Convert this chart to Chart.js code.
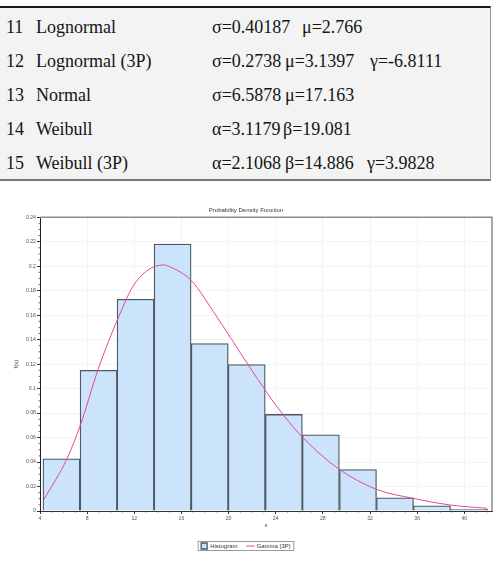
<!DOCTYPE html>
<html>
<head>
<meta charset="utf-8">
<script src="https://cdn.jsdelivr.net/npm/chart.js@4.4.1/dist/chart.umd.min.js"></script>
<style>
  body { margin:0; width:495px; height:561px; background:#fff; overflow:hidden; position:relative; }
  #fits { position:absolute; left:-2px; top:6px; width:492px; height:171px; background:#f3f3f3;
          border-top:2px solid #1a1a1a; border-right:1px solid #9a9a9a; border-bottom:2px solid #777;
          font-family:"Liberation Serif", "Times New Roman", serif; font-size:18px; color:#151515; }
  .cell { position:absolute; white-space:pre; line-height:18px; }
  #wrap { position:absolute; left:0; top:200px; width:495px; height:361px; }
</style>
</head>
<body>
<div id="fits"></div>
<div id="wrap"><canvas id="pdf" width="495" height="361"></canvas></div>
<script>
// fitted distributions table
const fitIds = ['11', '12', '13', '14', '15'];
const fitNames = ['Lognormal', 'Lognormal (3P)', 'Normal', 'Weibull', 'Weibull (3P)'];
const fitParams = [
  ['σ=0.40187', 'μ=2.766'],
  ['σ=0.2738', 'μ=3.1397', 'γ=-6.8111'],
  ['σ=6.5878', 'μ=17.163'],
  ['α=3.1179', 'β=19.081'],
  ['α=2.1068', 'β=14.886', 'γ=3.9828']
];
const paramLefts = [[214, 304], [214, 287, 372], [214, 287], [214, 285], [214, 287, 369]];

// histogram bins (centre, density)
const binCenters = [5.82, 8.97, 12.11, 15.25, 18.40, 21.54, 24.69, 27.83, 30.98, 34.12, 37.26, 40.41];
const binDensity = [0.0427, 0.1149, 0.1730, 0.2181, 0.1368, 0.1197, 0.0789, 0.0622, 0.0338, 0.0108, 0.0043, 0.0014];

// Gamma (3P) curve
const gammaX = [4.34, 6.29, 7.46, 8.93, 10.63, 12.05, 14.45, 15.02, 16.86, 18.7, 21.73, 23.24, 24.65, 26.35, 29.32, 32.58, 35.69, 38.81, 41.93];
const gammaY = [0.0095, 0.0427, 0.0711, 0.1157, 0.1576, 0.186, 0.201, 0.1995, 0.188, 0.163, 0.1184, 0.0968, 0.0784, 0.0595, 0.0346, 0.0176, 0.0103, 0.0049, 0.0022];

const barFill = '#cce4fb';
const barEdge = '#4e5860';
const curveColor = '#e5489c';

const table = document.getElementById('fits');
fitIds.forEach((id, i) => {
  const top = 10 + i * 34;
  const add = (txt, left) => {
    const d = document.createElement('div');
    d.className = 'cell';
    d.style.left = left + 'px';
    d.style.top = top + 'px';
    d.textContent = txt;
    table.appendChild(d);
  };
  add(id, 8);
  add(fitNames[i], 38);
  fitParams[i].forEach((p, j) => add(p, paramLefts[i][j]));
});

const tickFont = { family: 'Liberation Sans, Arial, sans-serif', size: 5.2 };

const framePlugin = {
  id: 'frame',
  afterDatasetsDraw(chart) {
    const { ctx, chartArea: a } = chart;
    const xs = chart.scales.x, ys = chart.scales.y;
    ctx.save();
    ctx.strokeStyle = '#8c8c8c';
    ctx.lineWidth = 1.5;
    ctx.beginPath();
    ctx.moveTo(a.left, a.top);
    ctx.lineTo(a.right, a.top);
    ctx.lineTo(a.right, a.bottom);
    ctx.stroke();
    // minor ticks
    ctx.strokeStyle = '#444';
    ctx.lineWidth = 0.8;
    ctx.beginPath();
    for (let v = 5; v < xs.max; v += 1) {
      if (v % 4 === 0) continue;
      const px = xs.getPixelForValue(v);
      ctx.moveTo(px, a.bottom);
      ctx.lineTo(px, a.bottom + 1.5);
    }
    for (let k = 1; k < 48; k++) {
      if (k % 4 === 0) continue;
      const py = ys.getPixelForValue(k * 0.005);
      ctx.moveTo(a.left, py);
      ctx.lineTo(a.left - 1.5, py);
    }
    ctx.stroke();
    ctx.restore();
  },
  afterDraw(chart) {
    const boxes = chart.legend.legendHitBoxes;
    if (!boxes || !boxes.length) return;
    const l = Math.min(...boxes.map(b => b.left)) - 3;
    const r = Math.max(...boxes.map(b => b.left + b.width)) + 3;
    const t = Math.min(...boxes.map(b => b.top)) - 1.5;
    const btm = Math.max(...boxes.map(b => b.top + b.height)) + 1.5;
    const ctx = chart.ctx;
    ctx.save();
    ctx.strokeStyle = '#9a9a9a';
    ctx.lineWidth = 1;
    ctx.strokeRect(l, t, r - l, btm - t);
    ctx.restore();
  }
};

new Chart(document.getElementById('pdf'), {
  type: 'bar',
  data: {
    datasets: [
      {
        type: 'line',
        label: 'Gamma (3P)',
        data: gammaX.map((x, i) => ({ x: x, y: gammaY[i] })),
        borderColor: curveColor,
        backgroundColor: curveColor,
        borderWidth: 1,
        pointRadius: 0,
        pointStyle: 'line',
        cubicInterpolationMode: 'monotone',
        order: 0
      },
      {
        type: 'bar',
        label: 'Histogram',
        data: binCenters.map((x, i) => ({ x: x, y: binDensity[i] })),
        backgroundColor: barFill,
        borderColor: barEdge,
        borderWidth: 1.3,
        barPercentage: 1,
        categoryPercentage: 1,
        pointStyle: 'rect',
        order: 1
      }
    ]
  },
  options: {
    responsive: false,
    animation: false,
    layout: { padding: { left: 0, right: 3, top: 0, bottom: 2 } },
    plugins: {
      title: {
        display: true,
        text: 'Probability Density Function',
        color: '#333',
        font: { family: 'Liberation Sans, Arial, sans-serif', size: 6, weight: 'normal' },
        padding: { top: 7, bottom: 3 }
      },
      legend: {
        position: 'bottom',
        reverse: true,
        labels: {
          usePointStyle: true,
          boxHeight: 6,
          padding: 10,
          color: '#333',
          font: { family: 'Liberation Sans, Arial, sans-serif', size: 6 }
        }
      },
      tooltip: { enabled: false }
    },
    scales: {
      x: {
        type: 'linear',
        offset: false,
        min: 4,
        max: 42.35,
        afterFit: s => { s.height = 22; },
        ticks: { stepSize: 4, includeBounds: false, autoSkip: false, maxRotation: 0, padding: 1, color: '#555', font: tickFont },
        grid: { offset: false, color: '#f4f4f4', tickColor: '#333', tickLength: 3 },
        border: { color: '#333', width: 1 },
        title: { display: true, text: 'x', color: '#444', font: { family: 'Liberation Sans, Arial, sans-serif', size: 6 }, padding: { top: 0, bottom: 4.4 } }
      },
      y: {
        min: 0,
        max: 0.24,
        afterFit: s => { s.width = 40; },
        ticks: { stepSize: 0.02, padding: 1, color: '#555', font: tickFont, callback: v => String(+v.toFixed(2)) },
        grid: { color: '#f4f4f4', tickColor: '#333', tickLength: 3 },
        border: { color: '#222', width: 1 },
        title: { display: true, text: 'f(x)', color: '#444', font: { family: 'Liberation Sans, Arial, sans-serif', size: 6 }, padding: { top: 13, bottom: 0 } }
      }
    }
  },
  plugins: [framePlugin]
});
</script>
</body>
</html>
